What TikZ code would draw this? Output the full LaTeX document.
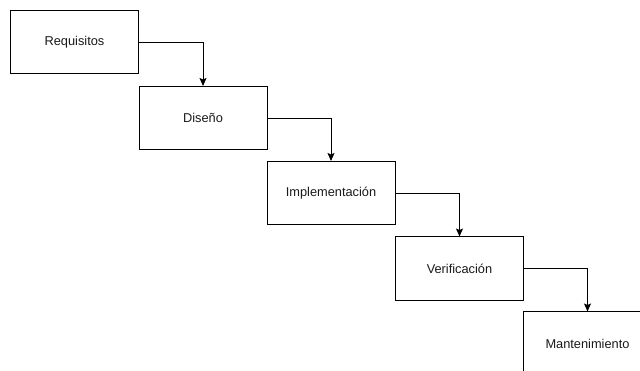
\documentclass[tikz,border=0pt]{standalone}
\usepackage{fontspec}
\setmainfont{Liberation Sans}
\usetikzlibrary{arrows.meta}
\begin{document}
\begin{tikzpicture}[x=1pt,y=-1pt,
  phase/.style={draw=black,line width=1pt,minimum width=128pt,minimum height=63.5pt,
    inner sep=0pt,font=\fontsize{12.8}{14}\selectfont,text=black!90,anchor=north west},
  flow/.style={draw=black,line width=1pt,-{Stealth[length=8pt,width=7pt,inset=1.5pt]}}]
\useasboundingbox (0,0) rectangle (640,371);
\clip (0,0) rectangle (640,371);
\node[phase] (req) at (10,10) {Requisitos};
\node[phase] (dis) at (138.5,86) {Diseño};
\node[phase] (imp) at (266.5,161) {Implementación};
\node[phase] (ver) at (395,236.5) {Verificación};
\node[phase] (man) at (523,311.5) {Mantenimiento};
\draw[flow] (req.east) -| (dis.north);
\draw[flow] (dis.east) -| (imp.north);
\draw[flow] (imp.east) -| (ver.north);
\draw[flow] (ver.east) -| (man.north);
\end{tikzpicture}
\end{document}
